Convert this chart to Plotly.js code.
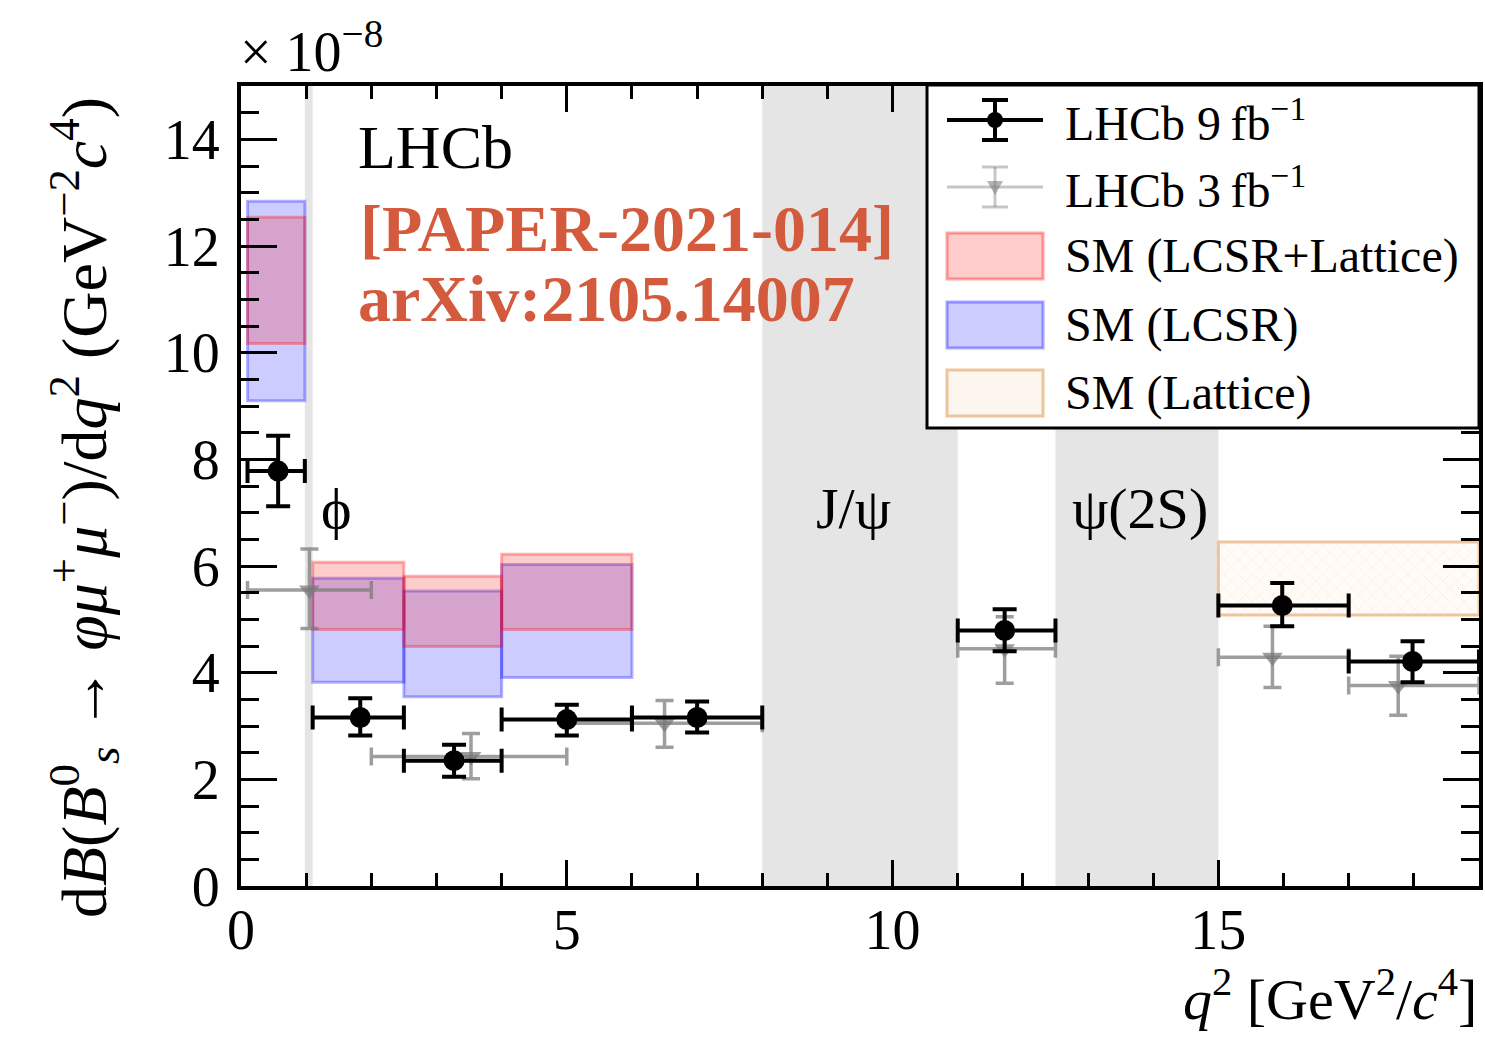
<!DOCTYPE html>
<html>
<head>
<meta charset="utf-8">
<script src="https://cdn.plot.ly/plotly-3.0.1.min.js"></script>
<style>html,body{margin:0;padding:0;background:#fff;}#chart{width:1485px;height:1038px;}</style>
</head>
<body>
<div id="chart"></div>
<script>
// ---------- data ----------
// LHCb 9 fb^-1
const binLo9 = [0.1, 1.1, 2.5, 4.0, 6.0, 11.0, 15.0, 17.0];
const binHi9 = [0.98, 2.5, 4.0, 6.0, 8.0, 12.5, 17.0, 19.0];
const xMean9 = [0.57, 1.83, 3.27, 5.0, 7.0, 11.72, 15.98, 17.98];
const val9   = [7.78, 3.16, 2.35, 3.12, 3.16, 4.79, 5.26, 4.21];
const errHi9 = [0.66, 0.36, 0.30, 0.28, 0.30, 0.40, 0.42, 0.38];
const errLo9 = [0.66, 0.34, 0.30, 0.30, 0.28, 0.39, 0.39, 0.39];
// LHCb 3 fb^-1
const binLo3 = [0.1, 2.0, 5.0, 11.0, 15.0, 17.0];
const binHi3 = [2.0, 5.0, 8.0, 12.5, 17.0, 19.0];
const xMean3 = [1.05, 3.53, 6.5, 11.72, 15.83, 17.76];
const val3   = [5.55, 2.43, 3.05, 4.45, 4.29, 3.76];
const errHi3 = [0.77, 0.43, 0.43, 0.60, 0.58, 0.55];
const errLo3 = [0.72, 0.42, 0.45, 0.65, 0.57, 0.56];
// SM predictions
const smBinLo = [0.1, 1.1, 2.5, 4.0];
const smBinHi = [0.98, 2.5, 4.0, 6.0];
const combLo  = [10.17, 4.81, 4.49, 4.81];
const combHi  = [12.54, 6.07, 5.81, 6.22];
const lcsrLo  = [9.10, 3.82, 3.55, 3.91];
const lcsrHi  = [12.84, 5.77, 5.53, 6.03];
const latBinLo = [15.0];
const latBinHi = [19.0];
const latLo    = [5.08];
const latHi    = [6.45];
// vetoed resonance regions
const vetoLo = [0.98, 8.0, 12.5];
const vetoHi = [1.1, 11.0, 15.0];
const resLabels = ['ϕ', 'J/ψ', 'ψ(2S)'];
const resLabelX = [1.47, 9.4, 13.8];
const legendLabels = ['LHCb 9\u2009fb<sup>−1</sup>', 'LHCb 3\u2009fb<sup>−1</sup>',
  'SM (LCSR+Lattice)', 'SM (LCSR)', 'SM (Lattice)'];

// ---------- helpers ----------
const SERIF = 'Liberation Serif, Times New Roman, serif';
const L = 241, T = 86, W = 1238, H = 800;
const px = X => (X - L) / W;
const py = Y => (T + H - Y) / H;
const mid = (a, b) => a.map((v, i) => (v + b[i]) / 2);
const diff = (a, b) => a.map((v, i) => b[i] - v);

function boxTrace(lo, hi, vlo, vhi, fill, line, pattern) {
  const t = {
    type: 'bar', x: mid(lo, hi), width: diff(lo, hi), base: vlo, y: diff(vlo, vhi),
    marker: {color: fill, line: {color: line, width: 3}},
    showlegend: false, hoverinfo: 'skip'
  };
  if (pattern) t.marker.pattern = pattern;
  return t;
}

const grey = 'rgba(120,120,120,0.72)';
const traces = [
  boxTrace(smBinLo, smBinHi, lcsrLo, lcsrHi, 'rgba(0,0,255,0.2)', 'rgba(0,0,255,0.3)'),
  boxTrace(smBinLo, smBinHi, combLo, combHi, 'rgba(255,0,0,0.2)', 'rgba(255,0,0,0.3)'),
  boxTrace(latBinLo, latBinHi, latLo, latHi, 'rgba(253,246,238,1)', 'rgba(236,196,158,1)',
    {shape: 'x', fgcolor: 'rgba(240,215,190,0.5)', bgcolor: 'rgba(255,251,246,1)', size: 10, solidity: 0.1}),
  {
    type: 'scatter', mode: 'markers', x: xMean3, y: val3,
    marker: {symbol: 'triangle-down', size: 18, color: grey},
    error_y: {type: 'data', symmetric: false, array: errHi3, arrayminus: errLo3,
      color: grey, thickness: 3.5, width: 9},
    error_x: {type: 'data', symmetric: false, array: diff(xMean3, binHi3), arrayminus: diff(binLo3, xMean3),
      color: grey, thickness: 3.5, width: 9},
    showlegend: false, hoverinfo: 'skip'
  },
  {
    type: 'scatter', mode: 'markers', x: xMean9, y: val9,
    marker: {symbol: 'circle', size: 21, color: '#000'},
    error_y: {type: 'data', symmetric: false, array: errHi9, arrayminus: errLo9,
      color: '#000', thickness: 4, width: 12},
    error_x: {type: 'data', symmetric: false, array: diff(xMean9, binHi9), arrayminus: diff(binLo9, xMean9),
      color: '#000', thickness: 4, width: 12},
    showlegend: false, hoverinfo: 'skip'
  }
];

// ---------- shapes ----------
const shapes = [];
vetoLo.forEach((lo, i) => shapes.push({
  type: 'rect', xref: 'x', yref: 'paper', x0: lo, x1: vetoHi[i], y0: 0, y1: 1,
  fillcolor: '#e5e5e5', line: {width: 0}, layer: 'below'
}));
// legend box
shapes.push({type: 'rect', xref: 'paper', yref: 'paper', x0: px(927), x1: px(1479), y0: py(428), y1: py(85),
  fillcolor: '#fff', line: {color: '#000', width: 3}, layer: 'above'});
const rowY = [120, 187, 256, 325, 393];
const sx0 = 947, sx1 = 1043, sxc = 995;
function seg(x0, y0, x1, y1, color, w) {
  shapes.push({type: 'line', xref: 'paper', yref: 'paper', x0: px(x0), y0: py(y0), x1: px(x1), y1: py(y1),
    line: {color: color, width: w}, layer: 'above'});
}
// row 1: black point
seg(sx0, rowY[0], sx1, rowY[0], '#000', 4);
seg(sxc, rowY[0] - 20, sxc, rowY[0] + 20, '#000', 4);
seg(sxc - 13, rowY[0] - 20, sxc + 13, rowY[0] - 20, '#000', 4);
seg(sxc - 13, rowY[0] + 20, sxc + 13, rowY[0] + 20, '#000', 4);
shapes.push({type: 'circle', xref: 'paper', yref: 'paper', x0: px(sxc - 8), x1: px(sxc + 8),
  y0: py(rowY[0] + 8), y1: py(rowY[0] - 8), fillcolor: '#000', line: {width: 0}, layer: 'above'});
// row 2: grey triangle
const g = 'rgba(128,128,128,0.45)';
seg(sx0, rowY[1], sx1, rowY[1], g, 3);
seg(sxc, rowY[1] - 20, sxc, rowY[1] + 20, g, 3);
seg(sxc - 13, rowY[1] - 20, sxc + 13, rowY[1] - 20, g, 3);
seg(sxc - 13, rowY[1] + 20, sxc + 13, rowY[1] + 20, g, 3);
shapes.push({type: 'path', xref: 'paper', yref: 'paper',
  path: `M ${px(sxc - 8)} ${py(rowY[1] - 6)} L ${px(sxc + 8)} ${py(rowY[1] - 6)} L ${px(sxc)} ${py(rowY[1] + 8)} Z`,
  fillcolor: 'rgba(128,128,128,0.6)', line: {width: 0}, layer: 'above'});
// rows 3-5: boxes
const boxStyles = [
  ['rgba(255,0,0,0.2)', 'rgba(255,0,0,0.35)'],
  ['rgba(0,0,255,0.2)', 'rgba(0,0,255,0.35)'],
  ['rgba(253,246,238,1)', 'rgba(236,196,158,1)']
];
boxStyles.forEach((s, i) => shapes.push({type: 'rect', xref: 'paper', yref: 'paper',
  x0: px(sx0), x1: px(sx1), y0: py(rowY[i + 2] + 23), y1: py(rowY[i + 2] - 23),
  fillcolor: s[0], line: {color: s[1], width: 3}, layer: 'above'}));

// ---------- annotations ----------
const ann = [];
legendLabels.forEach((t, i) => ann.push({xref: 'paper', yref: 'paper', x: px(1063), y: py(rowY[i]),
  xanchor: 'left', yanchor: 'middle', text: t, showarrow: false, font: {family: SERIF, size: 48, color: '#000'}}));
ann.push({xref: 'paper', yref: 'paper', x: px(356), y: py(147), xanchor: 'left', yanchor: 'middle',
  text: 'LHCb', showarrow: false, font: {family: SERIF, size: 62, color: '#000'}});
ann.push({xref: 'paper', yref: 'paper', x: px(358), y: py(229), xanchor: 'left', yanchor: 'middle',
  text: '<b>[PAPER-2021-014]</b>', showarrow: false, font: {family: SERIF, size: 66, color: '#d35a3c'}});
ann.push({xref: 'paper', yref: 'paper', x: px(356), y: py(298), xanchor: 'left', yanchor: 'middle',
  text: '<b>arXiv:2105.14007</b>', showarrow: false, font: {family: SERIF, size: 66, color: '#d35a3c'}});
resLabels.forEach((t, i) => ann.push({xref: 'x', yref: 'paper', x: resLabelX[i], y: py(508),
  xanchor: 'center', yanchor: 'middle', text: t, showarrow: false, font: {family: SERIF, size: 58, color: '#000'}}));
ann.push({xref: 'paper', yref: 'paper', x: px(238), y: py(48), xanchor: 'left', yanchor: 'middle',
  text: '× 10<sup>−8</sup>', showarrow: false, font: {family: SERIF, size: 56, color: '#000'}});
ann.push({xref: 'paper', yref: 'paper', x: 1, y: py(995), xanchor: 'right', yanchor: 'middle',
  text: '<i>q</i><sup>2</sup> [GeV<sup>2</sup>/<i>c</i><sup>4</sup>]', showarrow: false,
  font: {family: SERIF, size: 58, color: '#000'}});
ann.push({xref: 'paper', yref: 'paper', x: px(84), y: py(508), xanchor: 'center', yanchor: 'middle',
  textangle: -90, showarrow: false,
  text: 'd<i>B</i>(<i>B</i><sup>0</sup><sub><i>s</i></sub> → <i>φμ</i><sup>+</sup><i>μ</i><sup>−</sup>)/d<i>q</i><sup>2</sup> (GeV<sup>−2</sup><i>c</i><sup>4</sup>)',
  font: {family: SERIF, size: 64, color: '#000'}});

const layout = {
  width: 1485, height: 1038,
  margin: {l: L, r: 1485 - L - W, t: T, b: 1038 - T - H, pad: 0},
  paper_bgcolor: '#fff', plot_bgcolor: '#fff',
  barmode: 'overlay', bargap: 0,
  showlegend: false,
  font: {family: SERIF, color: '#000'},
  xaxis: {
    range: [0, 19], dtick: 5, tick0: 0, ticks: 'inside', ticklen: 26, tickwidth: 3, tickcolor: '#000',
    minor: {dtick: 1, ticklen: 13, tickwidth: 3, tickcolor: '#000', ticks: 'inside'},
    showline: true, linewidth: 4, linecolor: '#000', mirror: 'allticks',
    showgrid: false, zeroline: false, ticklabelstandoff: -8,
    tickfont: {family: SERIF, size: 56, color: '#000'}
  },
  yaxis: {
    range: [0, 15], dtick: 2, tick0: 0, ticks: 'inside', ticklen: 36, tickwidth: 3, tickcolor: '#000',
    minor: {dtick: 0.5, ticklen: 18, tickwidth: 3, tickcolor: '#000', ticks: 'inside'},
    showline: true, linewidth: 4, linecolor: '#000', mirror: 'allticks',
    showgrid: false, zeroline: false, ticklabelstandoff: 6,
    tickfont: {family: SERIF, size: 56, color: '#000'}
  },
  shapes: shapes,
  annotations: ann
};

Plotly.newPlot('chart', traces, layout, {staticPlot: true, displayModeBar: false});
</script>
</body>
</html>
